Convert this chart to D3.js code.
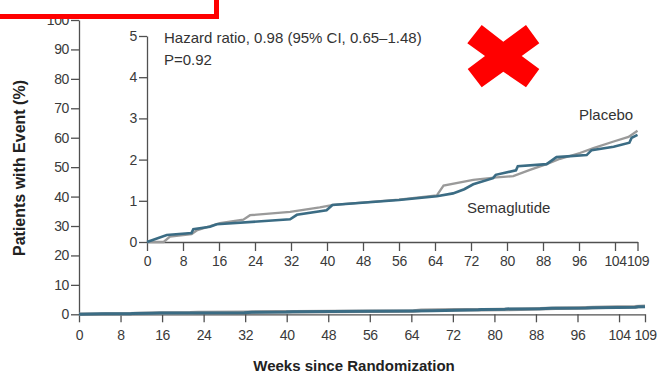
<!DOCTYPE html>
<meta charset="utf-8">
<style>
body { margin: 0; background: #fff; }
text { font-family: "Liberation Sans", Arial, sans-serif; fill: #333; }
.axis text { font-size: 14px; letter-spacing: -0.4px; fill: #3a3a3a; }
.axis path, .axis line { stroke: #505050; stroke-width: 1.3; }
</style>
<svg width="657" height="374"></svg>
<script src="https://d3js.org/d3.v7.min.js"></script>
<script>

// weeks since randomization, cumulative % with event
var semaglutide = [
  [0,0],[4.4,0.17],[9.9,0.22],[10.3,0.31],[14,0.37],[15.5,0.43],[31.8,0.55],[33.3,0.66],
  [39.9,0.77],[41.2,0.9],[56,1.02],[64.4,1.11],[68,1.18],[70.5,1.28],[72.5,1.4],[76.9,1.55],
  [77.5,1.63],[82,1.74],[82.4,1.84],[88.8,1.89],[91,2.06],[97.7,2.11],[98.8,2.23],
  [103.7,2.31],[107.2,2.41],[107.7,2.53],[109,2.6]
];
var placebo = [
  [0,0],[3.7,0],[5.1,0.13],[9.9,0.19],[11.2,0.29],[16.2,0.46],[21.4,0.54],[22.9,0.65],
  [31.8,0.73],[38.4,0.84],[41.4,0.9],[56,1.03],[64.4,1.13],[65.9,1.37],[72.5,1.51],
  [77.7,1.57],[81.4,1.6],[85.1,1.75],[88.8,1.89],[91.8,2.02],[96.2,2.16],[99.2,2.28],
  [103.7,2.44],[107,2.55],[109,2.7]
];
var weekTicks = [0,8,16,24,32,40,48,56,64,72,80,88,96,104,109];
var mainYTicks = [0,10,20,30,40,50,60,70,80,90,100];
var insetYTicks = [0,1,2,3,4,5];

var svg = d3.select("svg");
var semaColor = "#3b6c84", placeboColor = "#9a9a9a";
var fmt = d3.format("d");

// main chart
var x = d3.scaleLinear().domain([0,109]).range([79,645]);
var y = d3.scaleLinear().domain([0,100]).range([314.3,20]);

svg.append("g").attr("class","axis")
  .attr("transform","translate(79,0)")
  .call(d3.axisLeft(y).tickValues(mainYTicks).tickFormat(fmt).tickSize(8).tickSizeOuter(0).tickPadding(2));
svg.append("g").attr("class","axis")
  .attr("transform","translate(0,314.3)")
  .call(d3.axisBottom(x).tickValues(weekTicks).tickFormat(fmt).tickSize(8).tickSizeOuter(0).tickPadding(8));

var mainLine = d3.line().x(function(d){return x(d[0]);}).y(function(d){return y(d[1]);});
svg.append("path").datum(placebo).attr("d",mainLine)
  .attr("fill","none").attr("stroke",placeboColor).attr("stroke-width",3.5);
svg.append("path").datum(semaglutide).attr("d",mainLine)
  .attr("fill","none").attr("stroke",semaColor).attr("stroke-width",3);

svg.append("text")
  .attr("transform","translate(25,168) rotate(-90)")
  .attr("text-anchor","middle")
  .style("font-size","16px").style("font-weight","bold").style("fill","#222")
  .text("Patients with Event (%)");
svg.append("text")
  .attr("x",354).attr("y",371)
  .attr("text-anchor","middle")
  .style("font-size","15px").style("font-weight","bold").style("fill","#222")
  .text("Weeks since Randomization");

// inset
var ix = d3.scaleLinear().domain([0,109]).range([147,637.5]);
var iy = d3.scaleLinear().domain([0,5]).range([242,36]);

svg.append("g").attr("class","axis")
  .attr("transform","translate(147,0)")
  .call(d3.axisLeft(iy).tickValues(insetYTicks).tickFormat(fmt).tickSize(8).tickSizeOuter(0).tickPadding(2));
svg.append("g").attr("class","axis")
  .attr("transform","translate(0,242)")
  .call(d3.axisBottom(ix).tickValues(weekTicks).tickFormat(fmt).tickSize(9).tickSizeOuter(0).tickPadding(5));

var insetLine = d3.line().x(function(d){return ix(d[0]);}).y(function(d){return iy(d[1]);});
svg.append("path").datum(placebo).attr("d",insetLine)
  .attr("fill","none").attr("stroke",placeboColor).attr("stroke-width",2.3);
svg.append("path").datum(semaglutide).attr("d",insetLine)
  .attr("fill","none").attr("stroke",semaColor).attr("stroke-width",2.6);

svg.append("text").attr("x",164).attr("y",42.5).style("font-size","15px")
  .text("Hazard ratio, 0.98 (95% CI, 0.65\u20131.48)");
svg.append("text").attr("x",164).attr("y",65).style("font-size","15px")
  .text("P=0.92");
svg.append("text").attr("x",579).attr("y",120).style("font-size","15px").text("Placebo");
svg.append("text").attr("x",467).attr("y",213).style("font-size","15px").text("Semaglutide");

// red annotations
svg.append("path")
  .attr("d","M0,16.5 H216.5 V0")
  .attr("fill","none").attr("stroke","#ff0000").attr("stroke-width",5);
svg.append("polygon")
  .attr("points","481.7,25 503.3,41.7 526,25 539.3,43.3 521.7,56 539.3,69 526,87.3 503.3,71.7 481.7,87.3 467.7,69 485,56 467.3,43.3")
  .attr("fill","#ff0000");
</script>
